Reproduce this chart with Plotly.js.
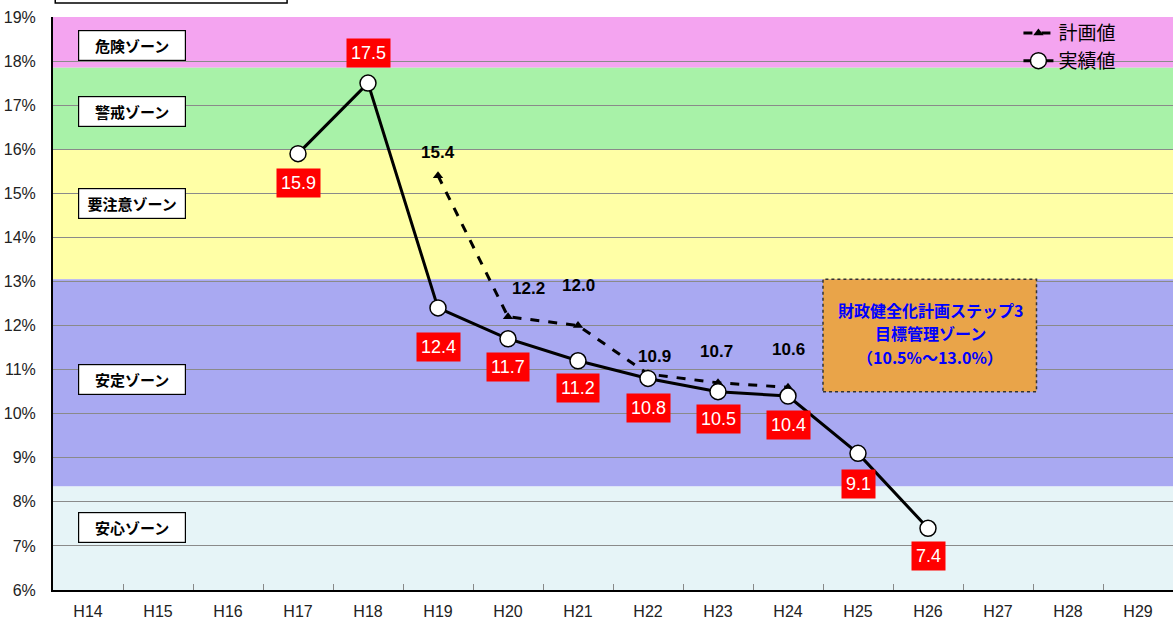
<!DOCTYPE html>
<html>
<head>
<meta charset="utf-8">
<script src="https://cdn.plot.ly/plotly-3.0.1.min.js"></script>
<style>html,body{margin:0;padding:0;background:#fff;}#chart{width:1174px;height:622px;}</style>
</head>
<body>
<div id="chart"></div>
<script>
// ---- data ----
const years = ["H14","H15","H16","H17","H18","H19","H20","H21","H22","H23","H24","H25","H26","H27","H28","H29"];
const actualYears = ["H17","H18","H19","H20","H21","H22","H23","H24","H25","H26"];
const actualValues = [15.9, 17.5, 12.4, 11.7, 11.2, 10.8, 10.5, 10.4, 9.1, 7.4];
const planYears = ["H19","H20","H21","H22","H23","H24"];
const planValues = [15.4, 12.2, 12.0, 10.9, 10.7, 10.6];
const zoneNames = ["危険ゾーン","警戒ゾーン","要注意ゾーン","安定ゾーン","安心ゾーン"];
const zoneLower = [17.85, 16.0, 13.05, 8.35, 6.0];
const zoneUpper = [19.0, 17.85, 16.0, 13.05, 8.35];
const zoneLabelY = [18.36, 16.85, 14.78, 10.77, 7.41];
const targetLow = 10.5, targetHigh = 13.0;
const targetLines = ["財政健全化計画ステップ3", "目標管理ゾーン", "（10.5%～13.0%）"];
const targetLineY = [12.35, 11.82, 11.29];

// ---- styles ----
const zoneColors = ["#F4A4F0","#A8F2A8","#FFFFA6","#A9A9F2","#E6F4F7"];
const jp = "Noto Sans CJK JP";
const latin = "Liberation Sans, Arial, sans-serif";
const actualShift = [-29, 30, -39, -28, -27, -30, -27, -29, -31, -28];
const planShiftY = [23, 28, 40, 18, 31, 38];
const planShiftX = [0, 20, 0, 6, -2, 0];

const shapes = [];
zoneNames.forEach((n, i) => {
  shapes.push({type:"rect", xref:"paper", yref:"y", x0:0, x1:1, y0:zoneLower[i], y1:zoneUpper[i],
    fillcolor:zoneColors[i], line:{width:0}, layer:"below"});
});
// target zone box
shapes.push({type:"rect", xref:"x", yref:"y", x0:10.5, x1:13.55, y0:targetLow, y1:targetHigh + 0.05,
  fillcolor:"#E9A449", line:{color:"#333", width:1.5, dash:"dot"}, layer:"above"});
// cut-off title box at top
shapes.push({type:"rect", xref:"paper", yref:"paper", x0:0.002, x1:0.209, y0:1.0244, y1:1.2,
  fillcolor:"#fff", line:{color:"#000", width:1.5}, layer:"above"});

const annotations = [];
zoneNames.forEach((n, i) => {
  annotations.push({xref:"paper", yref:"y", x:0.0705, y:zoneLabelY[i], xanchor:"center", yanchor:"middle",
    text:"<b>"+n+"</b>", showarrow:false,
    font:{family:jp, size:15, color:"#000"}, bgcolor:"#fff", bordercolor:"#000", borderwidth:1.2,
    width:104, height:27, align:"center"});
});
targetLines.forEach((t, i) => {
  annotations.push({xref:"x", yref:"y", x:12.03, y:targetLineY[i], xanchor:"center", yanchor:"middle",
    text:"<b>"+t+"</b>", showarrow:false, height:20,
    font:{family:jp, size:16, color:"#0000FF"}, align:"center"});
});
actualYears.forEach((yr, i) => {
  annotations.push({xref:"x", yref:"y", x:yr, y:actualValues[i], xanchor:"center", yanchor:"middle",
    text:actualValues[i].toFixed(1), showarrow:false,
    yshift:actualShift[i], font:{family:latin, size:18, color:"#fff"}, bgcolor:"#FF0000", borderpad:4});
});
planYears.forEach((yr, i) => {
  annotations.push({xref:"x", yref:"y", x:yr, y:planValues[i], xanchor:"center", yanchor:"middle",
    text:"<b>"+planValues[i].toFixed(1)+"</b>", showarrow:false,
    yshift:planShiftY[i], xshift:planShiftX[i], font:{family:latin, size:17, color:"#000"}});
});

const traces = [
  {x:planYears, y:planValues, name:"計画値", type:"scatter", mode:"lines+markers",
   line:{color:"#000", width:3, dash:"dash"}, marker:{symbol:"triangle-up", size:9, color:"#000"}},
  {x:actualYears, y:actualValues, name:"実績値", type:"scatter", mode:"lines+markers",
   line:{color:"#000", width:3}, marker:{symbol:"circle", size:16, color:"#fff", line:{color:"#000", width:1.5}}}
];

const layout = {
  width:1174, height:622,
  margin:{l:53, r:1, t:17, b:32, pad:0},
  paper_bgcolor:"#fff", plot_bgcolor:"#fff",
  showlegend:true,
  legend:{x:0.862, y:1.005, xanchor:"left", yanchor:"top", bgcolor:"rgba(0,0,0,0)",
    font:{family:jp, size:19, color:"#000"}, tracegroupgap:0},
  xaxis:{type:"category", categoryorder:"array", categoryarray:years, range:[-0.5, 15.5],
    showgrid:false, ticks:"inside", tickson:"boundaries", ticklen:6, tickcolor:"#888",
    ticklabelstandoff:6,
    showline:true, linecolor:"#000", linewidth:2, tickfont:{family:latin, size:16, color:"#222"}, fixedrange:true},
  yaxis:{range:[6, 19], dtick:1, ticksuffix:"%", showgrid:true, gridcolor:"#8a8a8a", gridwidth:1,
    zeroline:false, showline:true, linecolor:"#000", linewidth:2, ticks:"", ticklabelstandoff:12,
    tickfont:{family:latin, size:16, color:"#222"}, fixedrange:true},
  shapes:shapes,
  annotations:annotations
};

Plotly.newPlot("chart", traces, layout, {displayModeBar:false, staticPlot:true});
</script>
</body>
</html>
